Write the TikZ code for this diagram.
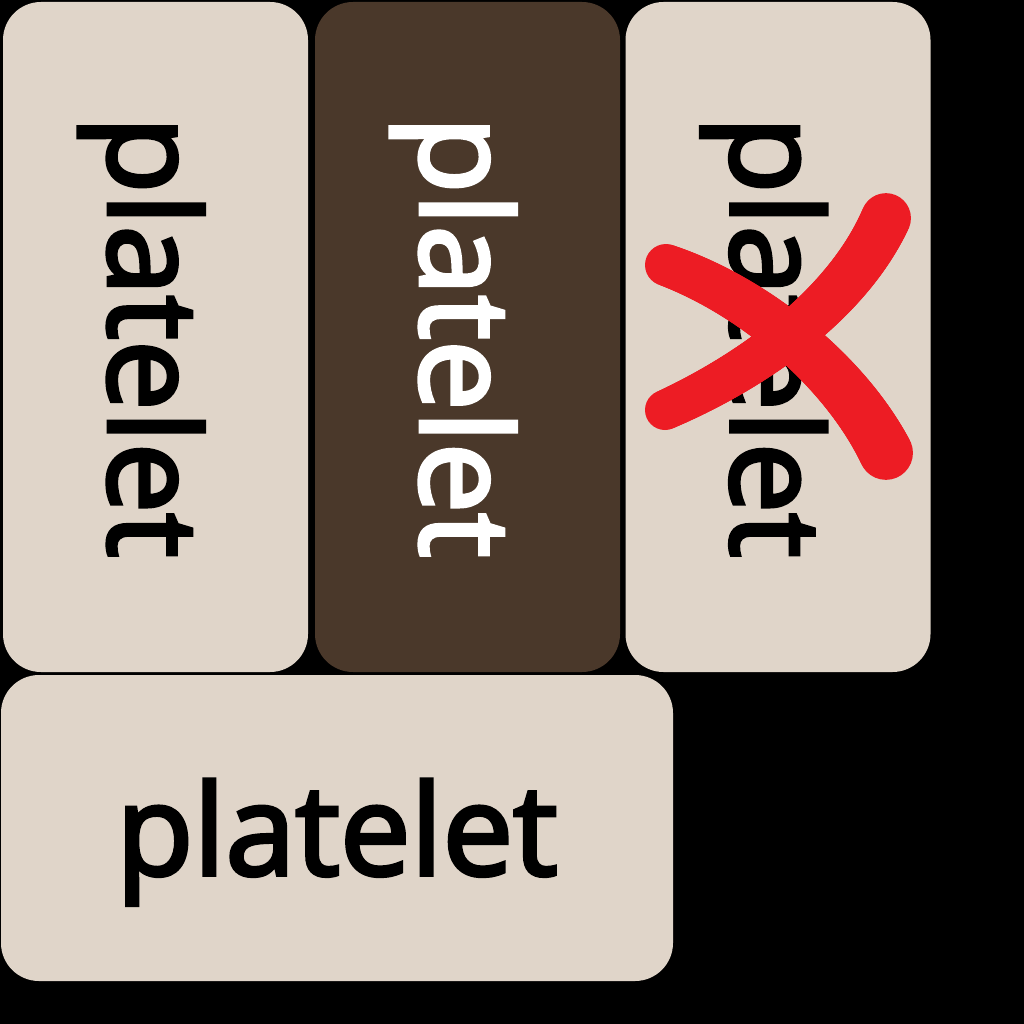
\documentclass[tikz,border=0pt]{standalone}
\usepackage{fontspec}
\newfontfamily\plateletfont[FakeBold=3]{Open Sans}
\definecolor{paleplate}{RGB}{224,213,201}
\definecolor{darkplate}{RGB}{74,56,42}
\definecolor{crossred}{RGB}{237,28,36}
\begin{document}
\begin{tikzpicture}[x=1pt,y=-1pt,
	plate/.style={fill=paleplate,text=black,rounded corners=38pt,
		font=\plateletfont\fontsize{126}{150}\selectfont,
		text height=124pt,text depth=30pt,inner sep=0pt},
	upright/.style={plate,rotate=-90,minimum width=670pt,minimum height=305pt}]
		\fill[black] (0,0) rectangle (1024,1024);
		\useasboundingbox (0,0) rectangle (1024,1024);
		\node[upright] (b1) at (155.5,337) {platelet};
		\node[upright,fill=darkplate,text=white] (b2) at (467.5,337) {platelet};
		\node[upright] (b3) at (778,337) {platelet};
		\node[plate,minimum width=672pt,minimum height=306pt] (b4) at (337,828) {platelet};
		\foreach \t in {0,0.01,...,1}
		{
			\path (666,265) .. controls (756,297) and (846,373) .. (886,453) coordinate[pos=\t] (xa);
			\path (665,410) .. controls (755,370) and (848,303) .. (886,218) coordinate[pos=\t] (xb);
			\fill[crossred] (xa) circle ({21+6*\t}) (xb) circle ({20+5*\t});
		}
\end{tikzpicture}
\end{document}
